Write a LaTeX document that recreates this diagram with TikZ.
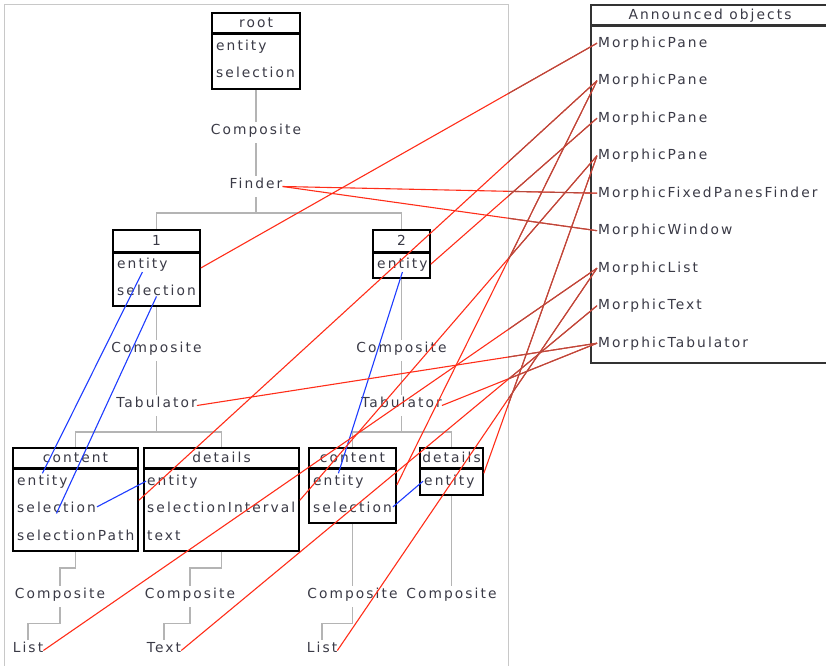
\documentclass[tikz,border=0pt]{standalone}
\usepackage{fontspec}
\newfontfamily\squeakfont[LetterSpace=15]{DejaVu Sans}
\usepackage{tikz}

\definecolor{ink}{RGB}{58,58,70}
\definecolor{treegray}{RGB}{180,180,180}
\definecolor{framegray}{RGB}{200,200,200}
\definecolor{linkred}{RGB}{255,45,25}
\definecolor{linkbrown}{RGB}{182,74,62}
\definecolor{linkblue}{RGB}{30,60,255}

\tikzset{
  txt/.style={font=\fontsize{13.8}{16}\selectfont\squeakfont, text=ink},
  lbl/.style={txt, inner sep=0pt, text height=12pt, text depth=9pt, anchor=base},
  slot/.style={txt, inner sep=1pt, anchor=base west},
  head/.style={txt, inner sep=1pt, anchor=base},
  box/.style={draw=black, line width=1.6pt, fill=white, inner sep=0pt},
  headbar/.style={draw=black, line width=3pt},
  treeline/.style={draw=treegray, line width=1.4pt},
  redlink/.style={draw=linkred, line width=1.1pt},
  brownlink/.style={draw=linkbrown, line width=1.1pt},
  bluelink/.style={draw=linkblue, line width=1.1pt}
}

\newcommand\linklist{one-r/mp1, finder.east/mfpf, finder.east/mwin,
  tab1.east/mtab, tab2.east/mtab, ct1-r/mp2, ct2-r/mp2, two-r/mp3,
  dt1-r/mp4, dt2-r/mp4, list1.east/mlist, list2.east/mlist, text1.east/mtext}

\begin{document}
\begin{tikzpicture}[x=1pt, y=-1pt]
\useasboundingbox (0,0) rectangle (826,665);
\draw[framegray] (4,4) rectangle (508,672);

% root
\node[box, minimum width=88pt, minimum height=76pt] (root) at (256,51) {};
\draw[headbar] (212,33) -- (300,33);
\node[head] (root-h) at (256,27) {root};
\node[slot] (root-e) at (215,50) {entity};
\node[slot] (root-s) at (215,77) {selection};
\node[lbl] (comp0) at (256,134) {Composite};
\node[lbl] (finder) at (256,188) {Finder};
\coordinate (bar0) at (256,213);

% pane 1
\node[box, minimum width=87pt, minimum height=76pt] (one) at (156.5,268) {};
\draw[headbar] (113,252) -- (200,252);
\node[head] (one-h) at (156.5,245) {1};
\node[slot] (one-e) at (116,268) {entity};
\node[slot] (one-s) at (116,295) {selection};
\node[lbl] (comp1) at (156.5,352) {Composite};
\node[lbl] (tab1) at (156.5,407) {Tabulator};
\coordinate (bar1) at (156.5,432);

% pane 2
\node[box, minimum width=57pt, minimum height=48pt] (two) at (401.5,254) {};
\draw[headbar] (373,252) -- (430,252);
\node[head] (two-h) at (401.5,245) {2};
\node[slot] (two-e) at (376,268) {entity};
\node[lbl] (comp2) at (401.5,352) {Composite};
\node[lbl] (tab2) at (401.5,407) {Tabulator};
\coordinate (bar2) at (401.5,432);

% content / details of 1
\node[box, minimum width=125pt, minimum height=103pt] (ct1) at (75.5,499.5) {};
\draw[headbar] (13,468) -- (138,468);
\node[head] (ct1-h) at (75.5,462) {content};
\node[slot] (ct1-e) at (16,485) {entity};
\node[slot] (ct1-s) at (16,512) {selection};
\node[slot] (ct1-p) at (16,540) {selectionPath};
\node[box, minimum width=155pt, minimum height=103pt] (dt1) at (221.5,499.5) {};
\draw[headbar] (144,468) -- (299,468);
\node[head] (dt1-h) at (221.5,462) {details};
\node[slot] (dt1-e) at (146,485) {entity};
\node[slot] (dt1-s) at (146,512) {selectionInterval};
\node[slot] (dt1-t) at (146,540) {text};
\node[lbl] (cc1) at (60,598) {Composite};
\node[lbl] (list1) at (28,652) {List};
\node[lbl] (cd1) at (190,598) {Composite};
\node[lbl] (text1) at (164,652) {Text};

% content / details of 2
\node[box, minimum width=87pt, minimum height=75pt] (ct2) at (352.5,485.5) {};
\draw[headbar] (309,468) -- (396,468);
\node[head] (ct2-h) at (352.5,462) {content};
\node[slot] (ct2-e) at (312,485) {entity};
\node[slot] (ct2-s) at (312,512) {selection};
\node[box, minimum width=63pt, minimum height=47pt] (dt2) at (451.5,471.5) {};
\draw[headbar] (420,468) -- (483,468);
\node[head] (dt2-h) at (451.5,462) {details};
\node[slot] (dt2-e) at (423,485) {entity};
\node[lbl] (cc2) at (352.5,598) {Composite};
\node[lbl] (list2) at (322,652) {List};
\node[lbl] (cd2) at (451.5,598) {Composite};

% announced objects
\node[box, draw=black!80, minimum width=238pt, minimum height=358pt] (ann) at (710,184) {};
\draw[headbar, draw=black!80] (591,25) -- (829,25);
\node[head] (ann-h) at (710,19) {Announced objects};
\foreach \n/\t [count=\i from 0] in {mp1/MorphicPane, mp2/MorphicPane, mp3/MorphicPane,
    mp4/MorphicPane, mfpf/MorphicFixedPanesFinder, mwin/MorphicWindow,
    mlist/MorphicList, mtext/MorphicText, mtab/MorphicTabulator}
  \node[slot] (\n) at (597,{47+37.5*\i}) {\t};

% tree
\draw[treeline] (root.south) -- (comp0.north);
\draw[treeline] (comp0.south) -- (finder.north);
\draw[treeline] (finder.south) -- (bar0) -| (one.north);
\draw[treeline] (bar0) -| (two.north);
\draw[treeline] (one.south) -- (comp1.north);
\draw[treeline] (comp1.south) -- (tab1.north);
\draw[treeline] (tab1.south) -- (bar1) -| (ct1.north);
\draw[treeline] (bar1) -| (dt1.north);
\draw[treeline] (two.south) -- (comp2.north);
\draw[treeline] (comp2.south) -- (tab2.north);
\draw[treeline] (tab2.south) -- (bar2) -| (ct2.north);
\draw[treeline] (bar2) -| (dt2.north);
\draw[treeline] (ct1.south) -- ++(0,16) -| (cc1.north);
\draw[treeline] (cc1.south) -- ++(0,16) -| (list1.north);
\draw[treeline] (dt1.south) -- ++(0,16) -| (cd1.north);
\draw[treeline] (cd1.south) -- ++(0,16) -| (text1.north);
\draw[treeline] (ct2.south) -- (cc2.north);
\draw[treeline] (cc2.south) -- ++(0,16) -| (list2.north);
\draw[treeline] (dt2.south) -- (cd2.north);

% blue links
\draw[bluelink] (one-e.south) -- (ct1-e.north);
\draw[bluelink] (one-s.south) -- (ct1-s.south);
\draw[bluelink] (two-e.south) -- (ct2-e.north);
\draw[bluelink] (ct1-s.east) -- (dt1-e.west);
\draw[bluelink] (ct2-s.east) -- (dt2-e.west);

% red links
\coordinate (one-r) at (one-e.base -| one.east);
\coordinate (two-r) at (two-e -| two.east);
\coordinate (ct1-r) at (ct1-s.north -| ct1.east);
\coordinate (dt1-r) at (dt1-s.north -| dt1.east);
\coordinate (ct2-r) at (ct2-e.base -| ct2.east);
\coordinate (dt2-r) at (dt2-e.north -| dt2.east);
\foreach \a/\b in \linklist
  \draw[redlink] (\a) -- (\b.west);
\begin{scope}
  \clip (508,0) rectangle (597,665);
  \foreach \a/\b in \linklist
    \draw[brownlink] (\a) -- (\b.west);
\end{scope}
\end{tikzpicture}
\end{document}
